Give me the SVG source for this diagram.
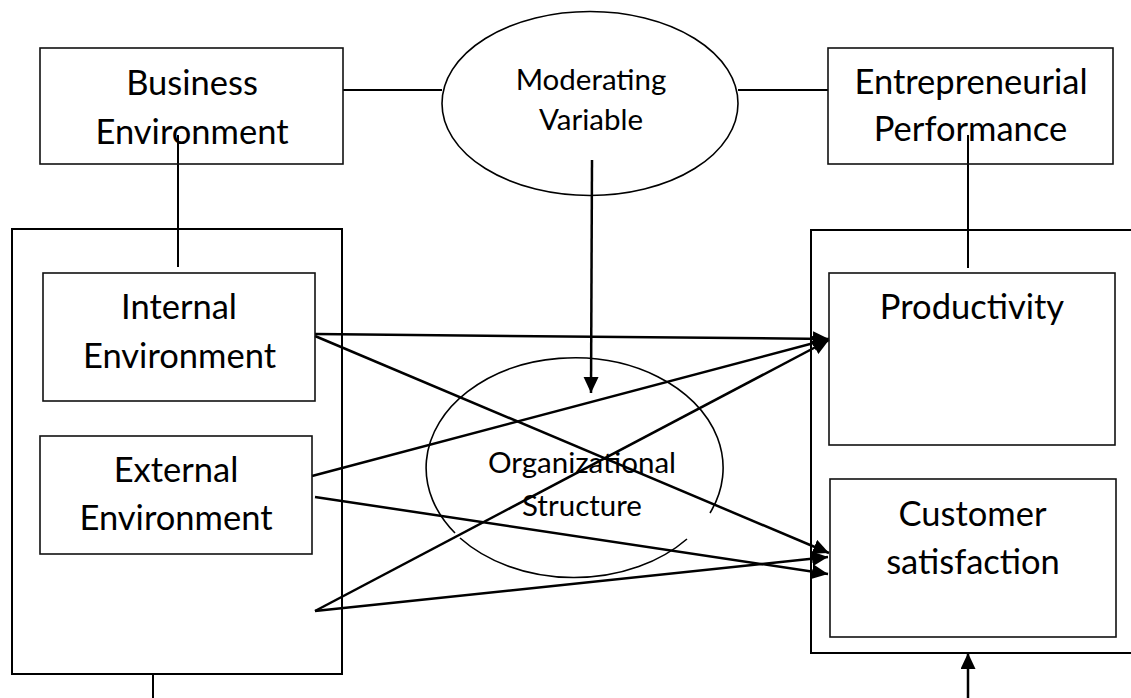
<svg xmlns="http://www.w3.org/2000/svg" width="1131" height="698" viewBox="0 0 1131 698">
<style>
.box{fill:none;stroke:#111;stroke-width:1.6}
.outer{fill:none;stroke:#000;stroke-width:2}
.ell{fill:none;stroke:#000;stroke-width:1.6}
.ln{fill:none;stroke:#000;stroke-width:2}
.ar{fill:none;stroke:#000;stroke-width:2.5;marker-end:url(#ah)}
.big{font-family:Lato,"Liberation Sans",sans-serif;font-size:34.5px;fill:#000;text-anchor:middle}
.small{font-family:Lato,"Liberation Sans",sans-serif;font-size:29.5px;fill:#000;text-anchor:middle}
</style>
<defs>
<marker id="ah" markerUnits="userSpaceOnUse" markerWidth="18" markerHeight="16" refX="16" refY="7.5" orient="auto">
<path d="M0,0 L16,7.5 L0,15 z" fill="#000"/>
</marker>
</defs>
<rect width="1131" height="698" fill="#fff"/>
<g id="connectors">
<line class="ln" x1="343" y1="90" x2="442" y2="90"/>
<line class="ln" x1="738" y1="90" x2="828" y2="90"/>
<line class="ln" x1="178" y1="135" x2="178" y2="267"/>
<line class="ln" x1="968" y1="135" x2="968" y2="268"/>
<line class="ar" x1="592" y1="160" x2="591" y2="393"/>
<line class="ar" x1="315" y1="334" x2="829" y2="339"/>
<line class="ar" x1="315" y1="336" x2="829" y2="553"/>
<line class="ar" x1="312" y1="476" x2="829" y2="339"/>
<line class="ar" x1="315" y1="497" x2="828" y2="574"/>
<line class="ar" x1="315" y1="611" x2="829" y2="340"/>
<line class="ar" x1="315" y1="611" x2="828" y2="557"/>
<line class="ln" x1="153" y1="674" x2="153" y2="698"/>
<line class="ar" x1="968" y1="698" x2="968" y2="653"/>
</g>
<g id="business-environment">
<rect class="box" x="40" y="48" width="303" height="116"/>
<text class="big" x="192" y="95">Business</text>
<text class="big" x="192" y="144">Environment</text>
</g>
<g id="moderating-variable">
<ellipse class="ell" cx="590" cy="103.5" rx="148" ry="92"/>
<text class="small" x="591" y="90">Moderating</text>
<text class="small" x="591" y="130">Variable</text>
</g>
<g id="entrepreneurial-performance">
<rect class="box" x="828" y="48" width="285" height="116"/>
<text class="big" x="971" y="94">Entrepreneurial</text>
<text class="big" x="970.5" y="141">Performance</text>
</g>
<g id="left-group">
<rect class="outer" x="12" y="229" width="330" height="445"/>
</g>
<g id="internal-environment">
<rect class="box" x="43" y="273" width="272" height="128"/>
<text class="big" x="179" y="319">Internal</text>
<text class="big" x="179.5" y="368">Environment</text>
</g>
<g id="external-environment">
<rect class="box" x="40" y="436" width="272" height="118"/>
<text class="big" x="176" y="482">External</text>
<text class="big" x="176" y="530">Environment</text>
</g>
<g id="organizational-structure">
<path class="ell" d="M455,533 A148.5,110 0 1 1 710,513"/>
<path class="ell" d="M460,538 A148.5,110 0 0 0 687,539"/>
<text class="small" x="582" y="473">Organizational</text>
<text class="small" x="582" y="516">Structure</text>
</g>
<g id="right-group">
<rect class="outer" x="811" y="230" width="340" height="423"/>
</g>
<g id="productivity">
<rect class="box" x="829" y="273" width="286" height="172"/>
<text class="big" x="972" y="319">Productivity</text>
</g>
<g id="customer-satisfaction">
<rect class="box" x="830" y="479" width="286" height="158"/>
<text class="big" x="972.5" y="526">Customer</text>
<text class="big" x="973" y="574">satisfaction</text>
</g>
</svg>
